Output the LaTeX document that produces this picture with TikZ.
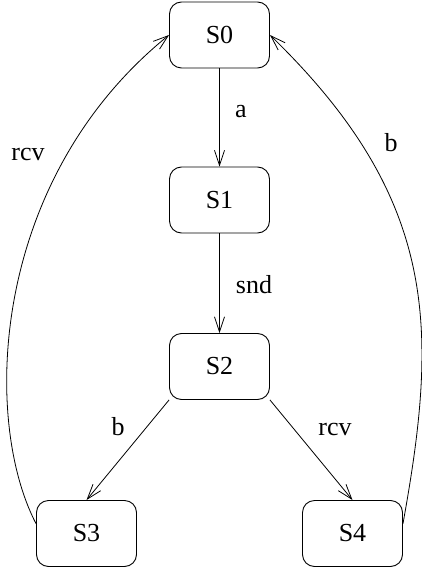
\documentclass[tikz,border=0pt]{standalone}
\usepackage{fontspec}
\setmainfont{Liberation Serif}
\usetikzlibrary{arrows.meta}

\tikzset{
  state/.style={draw, line width=0.9pt, rounded corners=12pt,
    minimum width=100pt, minimum height=66pt, inner sep=0pt,
    font=\fontsize{26}{30}\selectfont},
  trans/.style={line width=0.8pt, -{Straight Barb[length=15pt,width=10pt,line width=0.8pt]}},
  lbl/.style={anchor=base, inner sep=0pt, font=\fontsize{26}{30}\selectfont}
}

\begin{document}
\begin{tikzpicture}[x=1pt, y=-1pt]
  \useasboundingbox (0,0) rectangle (421,569);

  % states
  \node[state] (S0) at (219.5,35)  {S0};
  \node[state] (S1) at (219.5,200) {S1};
  \node[state] (S2) at (219.5,366.5) {S2};
  \node[state] (S3) at (86.5,533.5) {S3};
  \node[state] (S4) at (352.5,533.5) {S4};

  % straight transitions
  \draw[trans] (S0.south) -- (S1.north);
  \draw[trans] (S1.south) -- (S2.north);
  \draw[trans] (S2.south west) -- (S3.north);
  \draw[trans] (S2.south east) -- (S4.north);

  % return arcs back to the initial state
  \draw[trans] (S3.169) .. controls (-18,420) and (-10,180) .. (S0.west);
  \draw[trans] (S4.11) .. controls (438,330) and (440,200) .. (S0.east);

  % transition labels
  \node[lbl] (la)    at (241,118) {a};
  \node[lbl] (lsnd)  at (254,293) {snd};
  \node[lbl] (lrcv1) at (28,161)  {rcv};
  \node[lbl] (lb1)   at (391,152) {b};
  \node[lbl] (lb2)   at (118,435) {b};
  \node[lbl] (lrcv2) at (335,435) {rcv};
\end{tikzpicture}
\end{document}
